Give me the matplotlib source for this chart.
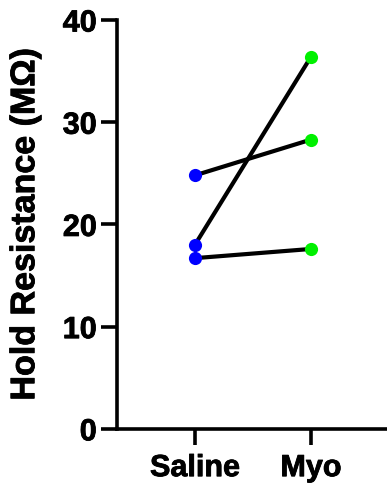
import matplotlib
matplotlib.use("Agg")
import matplotlib.pyplot as plt
import matplotlib.patheffects as pe

groups = ["Saline", "Myo"]
saline = [24.8, 18.0, 16.7]
myo = [28.3, 36.4, 17.6]
y_ticks = [0, 10, 20, 30, 40]

plt.rcParams['font.family'] = ['Liberation Sans', 'DejaVu Sans']
plt.rcParams['font.weight'] = 'bold'

fig = plt.figure(figsize=(3.87, 4.89), dpi=100)
ax = fig.add_axes([0.302, 0.121, 0.698, 0.836])

for s, m in zip(saline, myo):
    ax.plot([0, 1], [s, m], color='black', lw=3.0, zorder=2)
ax.scatter([0] * len(saline), saline, s=90, color='#0000ff', zorder=3, linewidths=0)
ax.scatter([1] * len(myo), myo, s=90, color='#00f000', zorder=3, linewidths=0)

ax.set_xlim(-0.672, 1.655)
ax.set_ylim(0, 40)
ax.set_xticks([0, 1])
ax.set_xticklabels(groups)
ax.set_yticks(y_ticks)
ax.set_ylabel('Hold Resistance (MΩ)', fontsize=24.5, fontweight='bold')
ax.yaxis.set_label_coords(-0.28, 0.5)

for side in ['top', 'right']:
    ax.spines[side].set_visible(False)
for side in ['left', 'bottom']:
    ax.spines[side].set_linewidth(2.6)
ax.tick_params(width=2.6, length=11.5, labelsize=22, pad=3)
ax.tick_params(axis='x', pad=6)

# heavier strokes so the bold text looks like the original
bold = [pe.withStroke(linewidth=0.6, foreground='black')]
for t in ax.get_xticklabels() + ax.get_yticklabels() + [ax.yaxis.label]:
    t.set_path_effects(bold)

fig.savefig('out.png', dpi=100)
